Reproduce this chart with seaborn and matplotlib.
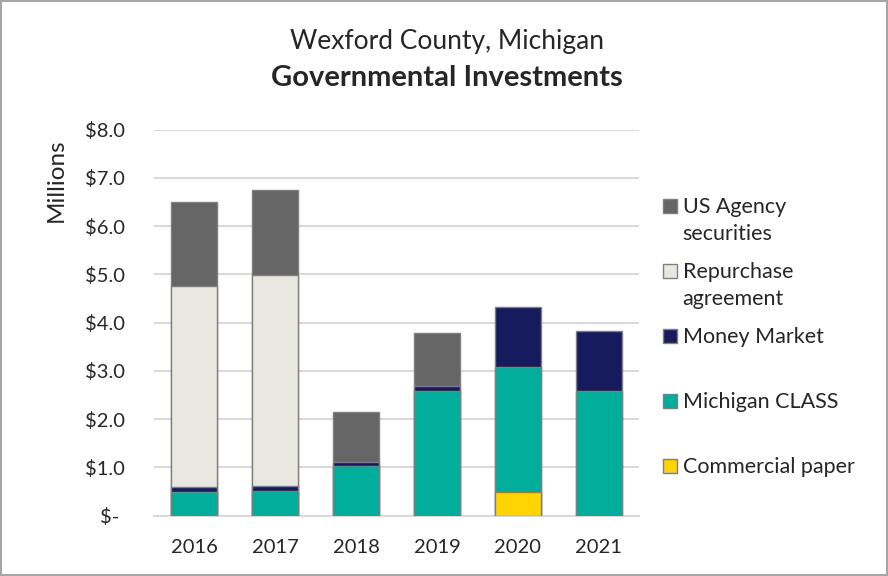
import numpy as np
import pandas as pd
import matplotlib
matplotlib.use("Agg")
import matplotlib.pyplot as plt
from matplotlib.lines import Line2D
import seaborn as sns

# values in $ millions
years = ["2016", "2017", "2018", "2019", "2020", "2021"]
commercial_paper = [0, 0, 0, 0, 0.49, 0]
michigan_class = [0.49, 0.51, 1.02, 2.59, 2.60, 2.59]
money_market = [0.10, 0.10, 0.09, 0.10, 1.23, 1.23]
repurchase = [4.18, 4.38, 0, 0, 0, 0]
us_agency = [1.73, 1.77, 1.04, 1.10, 0, 0]

# bottom to top in the stack
series_names = ["Commercial paper", "Michigan CLASS", "Money Market",
                "Repurchase agreement", "US Agency securities"]
legend_labels = ["Commercial paper\n ", "Michigan CLASS\n ", "Money Market\n ",
                 "Repurchase\nagreement", "US Agency\nsecurities"]
colors = ["#FFD400", "#00AE9B", "#161B5E", "#E8E8E0", "#666666"]

ytick_vals = [0, 1, 2, 3, 4, 5, 6, 7, 8]
ytick_labels = ["$- ", "$1.0", "$2.0", "$3.0", "$4.0", "$5.0", "$6.0", "$7.0", "$8.0"]

sns.set_style("white")
plt.rcParams['font.family'] = ['Lato', 'DejaVu Sans']

# long table + running totals per year
values = [commercial_paper, michigan_class, money_market, repurchase, us_agency]
df = pd.DataFrame({
    "year": np.tile(years, len(series_names)),
    "series": np.repeat(series_names, len(years)),
    "value": np.concatenate(values),
})
df["series"] = pd.Categorical(df["series"], categories=series_names, ordered=True)
df = df.sort_values(["year", "series"])
df["top"] = df.groupby("year")["value"].cumsum()
df.loc[df["value"] == 0, "top"] = np.nan

fig = plt.figure(figsize=(8.88, 5.76), dpi=100)
fig.patch.set_edgecolor("#A6A6A6")
fig.patch.set_linewidth(1.5)
ax = fig.add_axes([154 / 888, 1 - 515.7 / 576, 485 / 888, 386 / 576])

# draw tallest layer first so lower layers sit on top
handles = []
for name, col in reversed(list(zip(series_names, colors))):
    sub = df[df["series"] == name].dropna(subset=["top"])
    sns.barplot(data=sub, x="year", y="top", order=years, color=col,
                width=0.57, edgecolor="#7F7F7F", linewidth=1.0,
                saturation=1, errorbar=None, ax=ax, zorder=3)
    handles.append(Line2D([], [], linestyle="none", marker="s", markersize=10.5,
                          markerfacecolor=col, markeredgecolor="#7F7F7F", markeredgewidth=1.0))

ax.set_ylim(0, 8)
ax.set_yticks(ytick_vals)
ax.set_yticklabels(ytick_labels, fontsize=14.5)
ax.tick_params(axis="y", length=0, pad=21)
ax.tick_params(axis="x", length=0, pad=17, labelsize=14.5)
ax.grid(axis="y", color="#D9D9D9", linewidth=1.5, zorder=0)
ax.set_axisbelow(True)
for s in ["top", "right", "left"]:
    ax.spines[s].set_visible(False)
ax.spines["bottom"].set_color("#D9D9D9")
ax.spines["bottom"].set_linewidth(1.5)
ax.set_xlabel("")
ax.set_ylabel("Millions", fontsize=17.5)
ax.yaxis.set_label_coords(-0.18, 0.87)

fig.text(0.503, 1 - 41 / 576, "Wexford County, Michigan", ha="center", va="center", fontsize=19)
fig.text(0.503, 1 - 78 / 576, "Governmental Investments", ha="center", va="center",
         fontsize=21, fontweight="bold")

leg = ax.legend(handles, list(reversed(legend_labels)), loc="upper left",
                bbox_to_anchor=(661 / 888, 1 - 197 / 576), bbox_transform=fig.transFigure,
                frameon=False, fontsize=15.5, handlelength=0.8, handleheight=1.25,
                handletextpad=0.2, labelspacing=0.82, borderpad=0, borderaxespad=0)
for col_box in leg._legend_handle_box.get_children():
    for item in col_box.get_children():
        item.align = "top"
for t in leg.get_texts():
    t.set_linespacing(1.46)

fig.savefig("out.png", dpi=100, edgecolor=fig.get_edgecolor())
